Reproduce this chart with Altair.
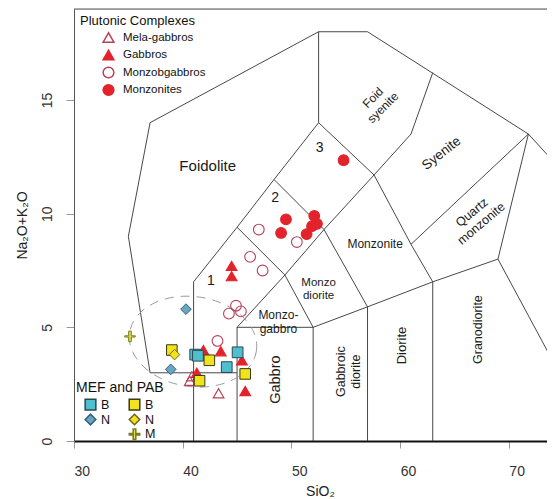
import altair as alt
import numpy as np
import pandas as pd

# ---------------- data (SiO2, Na2O+K2O) ----------------
# Plutonic complexes
mela_x = [43.3, 40.85, 40.65]
mela_y = [2.1, 2.85, 2.65]
gab_x = [44.5, 44.5, 41.9, 43.5, 45.45, 41.3, 45.75]
gab_y = [7.7, 7.25, 4.0, 3.95, 3.55, 3.0, 2.2]
mzg_x = [47.0, 50.5, 46.2, 47.35, 44.9, 44.25, 45.35, 43.2]
mzg_y = [9.3, 8.75, 8.1, 7.5, 5.95, 5.6, 5.7, 4.4]
mzn_x = [54.8, 49.5, 49.05, 52.1, 51.9, 52.35, 51.4]
mzn_y = [12.35, 9.75, 9.15, 9.9, 9.45, 9.55, 9.1]

# MEF and PAB
mef_b_x = [41.15, 41.4, 44.05, 45.05]
mef_b_y = [3.8, 3.75, 3.25, 3.9]
mef_n_x = [40.3, 38.9]
mef_n_y = [5.8, 3.15]
pab_b_x = [39.0, 42.45, 41.55, 45.75]
pab_b_y = [4.0, 3.55, 2.65, 2.95]
pab_n_x = [39.25]
pab_n_y = [3.8]
pab_m_x = [35.15]
pab_m_y = [4.6]

# TAS (Middlemost plutonic) field boundaries
field_lines = {
    "outer": ([37, 35, 37, 52.5, 57, 71.8, 76], [3, 9, 14, 18, 18, 13.5, 11.3]),
    "base3": ([37, 45], [3, 3]),
    "v41": ([41, 41], [0, 7]),
    "v45": ([45, 45], [0, 5]),
    "v52": ([52, 52], [0, 5]),
    "v57": ([57, 57], [0, 5.9]),
    "v63": ([63, 63], [0, 7]),
    "foidup": ([41, 45, 48.4, 52.5, 52.5], [7, 9.4, 11.5, 14, 18]),
    "sep12": ([45, 49.4, 52], [9.4, 7.3, 5]),
    "sep23": ([48.4, 53, 57], [11.5, 9.3, 5.9]),
    "diag": ([45, 49.4, 53, 57.6], [5, 7.3, 9.3, 11.7]),
    "top3": ([52.5, 57.6], [14, 11.7]),
    "syen": ([57.6, 61, 63], [11.7, 8.65, 7]),
    "fsyen": ([57.6, 61, 63], [11.7, 13.5, 16.2]),
    "qmz": ([61, 71.8, 69], [8.65, 13.5, 8]),
    "base": ([45, 52, 57, 63, 69, 78], [5, 5, 5.9, 7, 8, 0]),
}
frame_top = [19]

# field names
lab_text = ["Foidolite", "1", "2", "3", "Monzo-\ngabbro", "Monzo\ndiorite", "Monzonite",
            "Foid\nsyenite", "Syenite", "Quartz\nmonzonite", "Gabbro", "Gabbroic\ndiorite",
            "Diorite", "Granodiorite"]
lab_x = [42.3, 42.6, 48.5, 52.6, 48.8, 52.5, 57.7, 57.5, 63.8, 66.6, 48.6, 54.6, 60.15, 67.2]
lab_y = [12.1, 7.05, 10.7, 12.9, 5.55, 6.95, 8.65, 15.1, 12.65, 10.05, 2.7, 3.05, 4.2, 4.9]
lab_angle = [0, 0, 0, 0, 0, 0, 0, 315, 322, 320, 270, 270, 270, 270]
lab_size = [15, 14, 14, 14, 12, 11.5, 12, 12, 13.5, 12.5, 14.5, 12.5, 13, 12.5]

# dashed envelope (centre, semi-axes in px-equivalent, tilt)
ell_cx, ell_cy = 40.95, 4.37
ell_rx_px, ell_ry_px, ell_tilt = 64, 45, -8
PX_X, PX_Y = 10.87, 22.73

# ---------------- tables ----------------
rows = []
for name, (xs_, ys_) in field_lines.items():
    for i, (a, b) in enumerate(zip(xs_, ys_)):
        rows.append({"id": name, "ord": i, "x": a, "y": b})
df_lines = pd.DataFrame(rows)

t = np.linspace(0, 2 * np.pi, 121)
ph = np.deg2rad(ell_tilt)
ex = ell_rx_px * np.cos(t)
ey = ell_ry_px * np.sin(t)
df_ell = pd.DataFrame({
    "x": ell_cx + (ex * np.cos(ph) - ey * np.sin(ph)) / PX_X,
    "y": ell_cy + (ex * np.sin(ph) + ey * np.cos(ph)) / PX_Y,
    "ord": np.arange(len(t)),
})

df_lab = pd.DataFrame({"t": lab_text, "x": lab_x, "y": lab_y, "a": lab_angle, "s": lab_size})

cats1 = ["Mela-gabbros", "Gabbros", "Monzobgabbros", "Monzonites"]
df_p1 = pd.concat([
    pd.DataFrame({"x": mela_x, "y": mela_y, "cat": cats1[0]}),
    pd.DataFrame({"x": gab_x, "y": gab_y, "cat": cats1[1]}),
    pd.DataFrame({"x": mzg_x, "y": mzg_y, "cat": cats1[2]}),
    pd.DataFrame({"x": mzn_x, "y": mzn_y, "cat": cats1[3]}),
])

# legend laid out column-major: col 1 = MEF (B, N), col 2 = PAB (B, N, M)
cats2 = ["cB", "cN", "z", "yB", "yN", "yM"]
df_p2 = pd.concat([
    pd.DataFrame({"x": mef_b_x, "y": mef_b_y, "cat": "cB"}),
    pd.DataFrame({"x": pab_b_x, "y": pab_b_y, "cat": "yB"}),
    pd.DataFrame({"x": mef_n_x, "y": mef_n_y, "cat": "cN"}),
    pd.DataFrame({"x": pab_n_x, "y": pab_n_y, "cat": "yN"}),
    pd.DataFrame({"x": pab_m_x, "y": pab_m_y, "cat": "yM"}),
])

# ---------------- chart ----------------
FONT = "Liberation Sans"
xs = alt.Scale(domain=[30, 73.51], nice=False, zero=False)
ys = alt.Scale(domain=[0, 19], nice=False, zero=False)

x_axis = alt.Axis(values=[30, 40, 50, 60, 70], title="SiO₂", grid=False, labelFlush=False,
                  labelFontSize=14, labelColor="#333", labelAlign="left", labelPadding=16,
                  tickSize=7, tickColor="#999", domainColor="#111", domainWidth=2,
                  titleFontSize=14, titleFontWeight="normal", titleColor="#222",
                  titleX=246, titleY=50, titleBaseline="middle")
y_axis = alt.Axis(values=[0, 5, 10, 15], title="Na₂O+K₂O", grid=False, labelFlush=False,
                  labelFontSize=14, labelColor="#333", labelAngle=270, labelAlign="center",
                  labelBaseline="bottom", labelPadding=12, tickSize=8, tickColor="#999",
                  domainColor="#555", domainWidth=1, titleFontSize=14, titleFontWeight="normal",
                  titleColor="#222", titleAngle=270, titleX=-52, titleY=216,
                  titleAlign="center", titleBaseline="middle")

X = alt.X("x:Q", scale=xs, axis=x_axis)
Y = alt.Y("y:Q", scale=ys, axis=y_axis)

top_rule = alt.Chart(pd.DataFrame({"y": frame_top})).mark_rule(color="#555", strokeWidth=1).encode(y=Y)

lines = alt.Chart(df_lines).mark_line(color="#333", strokeWidth=0.9, clip=True).encode(
    x=X, y=Y, detail="id:N", order="ord:Q")

ellipse = alt.Chart(df_ell).mark_line(color="#9a9a9a", strokeWidth=1, strokeDash=[9, 7],
                                      clip=True).encode(x=X, y=Y, order="ord:Q")

labels = alt.Chart(df_lab).mark_text(lineBreak="\n", color="#1a1a1a", font=FONT).encode(
    x=X, y=Y, text="t:N",
    angle=alt.Angle("a:Q", scale=None),
    size=alt.Size("s:Q", scale=None))

leg1 = alt.Legend(title="Plutonic Complexes", orient="none", legendX=6, legendY=6, padding=0,
                  titleFontSize=13, titleFontWeight="normal", titleColor="#111",
                  titleFont=FONT, titlePadding=3, labelFontSize=11.5, labelColor="#111",
                  labelFont=FONT, symbolOffset=22, labelOffset=8, rowPadding=0.5)
red = "#e3232b"
pink = "#b8405a"
p1 = alt.Chart(df_p1).mark_point(opacity=1, strokeWidth=1.1).encode(
    x=X, y=Y,
    shape=alt.Shape("cat:N", scale=alt.Scale(domain=cats1, range=["triangle-up", "triangle-up", "circle", "circle"]), legend=leg1),
    fill=alt.Fill("cat:N", scale=alt.Scale(domain=cats1, range=["transparent", red, "transparent", red]), legend=leg1),
    stroke=alt.Stroke("cat:N", scale=alt.Scale(domain=cats1, range=[pink, red, pink, red]), legend=leg1),
    size=alt.Size("cat:N", scale=alt.Scale(domain=cats1, range=[115, 115, 65, 65]), legend=leg1),
)

plus_path = "M-0.25,-1H0.25V-0.12H1V0.12H0.25V1H-0.25V0.12H-1V-0.12H-0.25Z"
leg2 = alt.Legend(title="MEF and PAB", orient="none", legendX=2, legendY=372, padding=0,
                  columns=2, columnPadding=9, rowPadding=-2,
                  titleFontSize=14, titleFontWeight="normal", titleColor="#111", titleFont=FONT,
                  titlePadding=3, labelFontSize=12.5, labelColor="#111", labelFont=FONT,
                  symbolOffset=8, labelOffset=4, labelExpr="slice(datum.label, 1)")
p2 = alt.Chart(df_p2).mark_point(opacity=1, strokeWidth=1).encode(
    x=X, y=Y,
    shape=alt.Shape("cat:N", scale=alt.Scale(domain=cats2, range=["square", "diamond", "circle", "square", "diamond", plus_path]), legend=leg2),
    fill=alt.Fill("cat:N", scale=alt.Scale(domain=cats2, range=["#4fbfcf", "#68a6c4", "transparent", "#f2e31b", "#f0e21c", "#e4de3a"]), legend=leg2),
    stroke=alt.Stroke("cat:N", scale=alt.Scale(domain=cats2, range=["#2a4850", "#35607a", "transparent", "#3a3818", "#6a6420", "#7a7a28"]), legend=leg2),
    size=alt.Size("cat:N", scale=alt.Scale(domain=cats2, range=[115, 110, 20, 115, 110, 130]), legend=leg2),
)

chart = alt.layer(top_rule, lines, ellipse, labels, p1, p2).resolve_scale(
    shape="independent", fill="independent", stroke="independent", size="independent"
).properties(
    width=473, height=432,
    autosize=alt.AutoSizeParams(type="none"),
    padding={"left": 66, "top": 1, "right": 0, "bottom": 57},
).configure_view(stroke="transparent").configure(font=FONT)

chart.save("out.html", embed_options={"renderer": "svg", "actions": False})
